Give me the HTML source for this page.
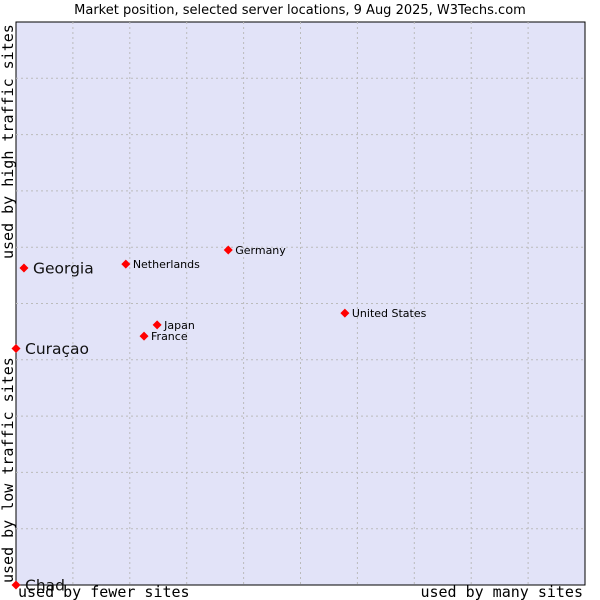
<!DOCTYPE html>
<html><head><meta charset="utf-8"><style>
body{margin:0;background:#fff}
svg{display:block}
</style></head><body>
<svg id="chart" width="600" height="600" xmlns="http://www.w3.org/2000/svg">
<rect x="0" y="0" width="600" height="600" fill="#fff"/>
<text x="300" y="14" text-anchor="middle" font-family="DejaVu Sans, sans-serif" font-size="13" fill="#000">Market position, selected server locations, 9 Aug 2025, W3Techs.com</text>
<rect x="16" y="22" width="569" height="563" fill="#e2e3f8" stroke="#000" stroke-width="1"/>
<g id="grid"></g>
<g id="points"></g>
<text x="18" y="597" font-family="DejaVu Sans Mono, Liberation Mono, monospace" font-size="15" fill="#000">used by fewer sites</text>
<text x="583" y="597" text-anchor="end" font-family="DejaVu Sans Mono, Liberation Mono, monospace" font-size="15" fill="#000">used by many sites</text>
<text transform="translate(13,583) rotate(-90)" font-family="DejaVu Sans Mono, Liberation Mono, monospace" font-size="15" fill="#000">used by low traffic sites</text>
<text transform="translate(13,259) rotate(-90)" font-family="DejaVu Sans Mono, Liberation Mono, monospace" font-size="15" fill="#000">used by high traffic sites</text>
</svg>
<script>
const names = ["Georgia","Curaçao","Chad","Netherlands","Germany","Japan","France","United States"];
const xValues = [1.4,0,0,19.3,37.3,24.8,22.5,57.8];
const yValues = [56.3,42.0,0,57.0,59.5,46.2,44.2,48.3];
const bigLabel = [true,true,true,false,false,false,false,false];
const X0=16,X1=585,Y0=585,Y1=22;
function xs(v){return X0+(X1-X0)*v/100;}
function ys(v){return Y0-(Y0-Y1)*v/100;}
const NS="http://www.w3.org/2000/svg";
const grid=document.getElementById('grid');
for(let i=1;i<10;i++){
  const v=document.createElementNS(NS,'line');
  v.setAttribute('x1',xs(i*10));v.setAttribute('x2',xs(i*10));v.setAttribute('y1',Y1);v.setAttribute('y2',Y0);
  v.setAttribute('stroke','#bbb');v.setAttribute('stroke-dasharray','2,3');
  
  
  grid.appendChild(v);
  const h=document.createElementNS(NS,'line');
  h.setAttribute('y1',ys(i*10));h.setAttribute('y2',ys(i*10));h.setAttribute('x1',X0);h.setAttribute('x2',X1);
  h.setAttribute('stroke','#bbb');h.setAttribute('stroke-dasharray','2,3');
  
  
  grid.appendChild(h);
}
const pts=document.getElementById('points');
names.forEach((n,i)=>{
  const x=xs(xValues[i]),y=ys(yValues[i]);
  const d=document.createElementNS(NS,'polygon');
  d.setAttribute('points',`${x},${y-4.5} ${x+4.5},${y} ${x},${y+4.5} ${x-4.5},${y}`);
  d.setAttribute('fill','#f00');
  
  
  pts.appendChild(d);
  const t=document.createElementNS(NS,'text');
  t.setAttribute('x',x+(bigLabel[i]?9:7));
  t.setAttribute('y',y+(bigLabel[i]?5.5:4));
  t.setAttribute('font-family','DejaVu Sans, sans-serif');
  t.setAttribute('font-size',bigLabel[i]?'15.5':'11');
  t.setAttribute('fill',bigLabel[i]?'#111':'#000');
  t.textContent=n;
  
  
  pts.appendChild(t);
});
</script>
</body></html>
